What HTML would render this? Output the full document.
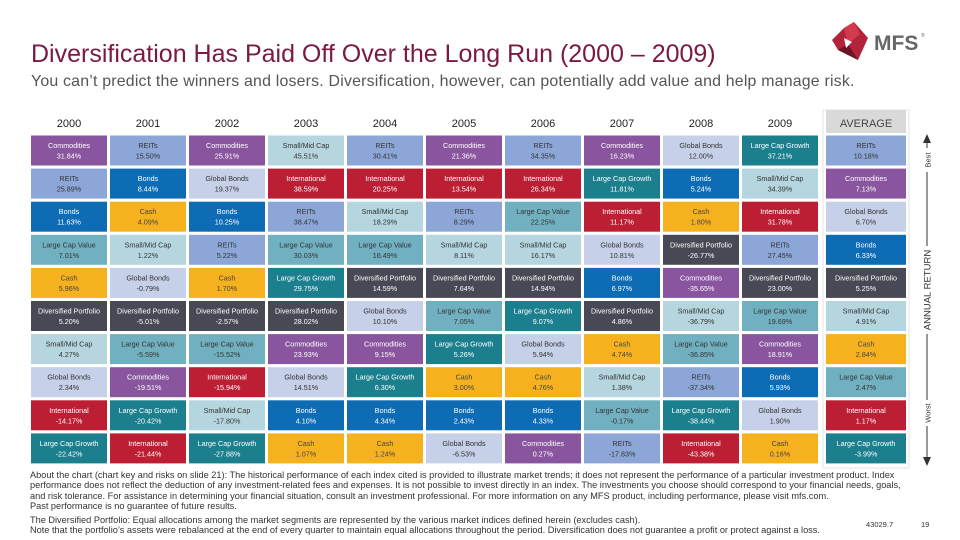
<!DOCTYPE html>
<html><head><meta charset="utf-8"><style>
html,body{margin:0;padding:0;background:#fff}
body{width:960px;height:540px;overflow:hidden;position:relative;font-family:"Liberation Sans",sans-serif}
.title{position:absolute;left:31px;top:40px;font-size:25px;color:#7a1a42;white-space:nowrap}
.sub{position:absolute;left:31px;top:73px;font-size:15.9px;color:#555;white-space:nowrap;letter-spacing:0.2px}
.foot{position:absolute;left:30px;font-size:9.2px;color:#333;white-space:nowrap;line-height:10.3px}
</style></head><body>
<div class="title">Diversification Has Paid Off Over the Long Run (2000 – 2009)</div>
<div class="sub">You can’t predict the winners and losers. Diversification, however, can potentially add value and help manage risk.</div>
<svg style="position:absolute;left:830px;top:20px" width="110" height="42">
<polygon points="14,8 24,2 38,18 28,40 8,30 2,20" fill="#b3243b"/>
<polygon points="14,8 24,2 30,14 18,24" fill="#d23a4e"/>
<polygon points="18,24 28,40 8,30" fill="#6e1428"/>
<polygon points="14,18 22,22 16,28" fill="#fff"/>
<text x="44" y="30" font-size="21" font-weight="bold" fill="#666" font-family="Liberation Sans, sans-serif">MFS</text>
<text x="91" y="17" font-size="5" fill="#666">®</text>
</svg>
<svg id="chart" style="position:absolute;left:0;top:0" width="960" height="470"></svg>
<div class="foot" style="top:470px">About the chart (chart key and risks on slide 21): The historical performance of each index cited is provided to illustrate market trends; it does not represent the performance of a particular investment product. Index<br>performance does not reflect the deduction of any investment-related fees and expenses. It is not possible to invest directly in an index. The investments you choose should correspond to your financial needs, goals,<br>and risk tolerance. For assistance in determining your financial situation, consult an investment professional. For more information on any MFS product, including performance, please visit mfs.com.<br>Past performance is no guarantee of future results.</div>
<div class="foot" style="top:515px">The Diversified Portfolio: Equal allocations among the market segments are represented by the various market indices defined herein (excludes cash).<br>Note that the portfolio’s assets were rebalanced at the end of every quarter to maintain equal allocations throughout the period. Diversification does not guarantee a profit or protect against a loss.</div>
<div class="foot" style="top:520px;left:866px;font-size:7.5px">43029.7</div>
<div class="foot" style="top:520px;left:921px;font-size:7.5px">19</div>
<script>
const columnLabels = ["2000","2001","2002","2003","2004","2005","2006","2007","2008","2009","AVERAGE"];
const assetNames = ["Commodities","REITs","Bonds","Large Cap Value","Cash","Diversified Portfolio","Small/Mid Cap","Global Bonds","International","Large Cap Growth"];
const assetColors = ["#8a559f","#8ba6d7","#0e6cb5","#70b0c1","#f6b11e","#474a54","#b5d6df","#c6d0e9","#bc1e33","#1b7f8e"];
const assetText = ["#fff","#333","#fff","#333","#444","#fff","#333","#333","#fff","#fff"];
// per column ranking (index into assetNames), best to worst
const rank2000 = [0,1,2,3,4,5,6,7,8,9];
const ret2000 = [31.84,25.89,11.63,7.01,5.96,5.20,4.27,2.34,-14.17,-22.42];
const rank2001 = [1,2,4,6,7,5,3,0,9,8];
const ret2001 = [15.50,8.44,4.09,1.22,-0.79,-5.01,-5.59,-19.51,-20.42,-21.44];
const rank2002 = [0,7,2,1,4,5,3,8,6,9];
const ret2002 = [25.91,19.37,10.25,5.22,1.70,-2.57,-15.52,-15.94,-17.80,-27.88];
const rank2003 = [6,8,1,3,9,5,0,7,2,4];
const ret2003 = [45.51,38.59,38.47,30.03,29.75,28.02,23.93,14.51,4.10,1.07];
const rank2004 = [1,8,6,3,5,7,0,9,2,4];
const ret2004 = [30.41,20.25,18.29,16.49,14.59,10.10,9.15,6.30,4.34,1.24];
const rank2005 = [0,8,1,6,5,3,9,4,2,7];
const ret2005 = [21.36,13.54,8.29,8.11,7.64,7.05,5.26,3.00,2.43,-6.53];
const rank2006 = [1,8,3,6,5,9,7,4,2,0];
const ret2006 = [34.35,26.34,22.25,16.17,14.94,9.07,5.94,4.76,4.33,0.27];
const rank2007 = [0,9,8,7,2,5,4,6,3,1];
const ret2007 = [16.23,11.81,11.17,10.81,6.97,4.86,4.74,1.38,-0.17,-17.83];
const rank2008 = [7,2,4,5,0,6,3,1,9,8];
const ret2008 = [12.00,5.24,1.80,-26.77,-35.65,-36.79,-36.85,-37.34,-38.44,-43.38];
const rank2009 = [9,6,8,1,5,3,0,2,7,4];
const ret2009 = [37.21,34.39,31.78,27.45,23.00,19.69,18.91,5.93,1.90,0.16];
const rankAvg = [1,0,7,2,5,6,4,3,8,9];
const retAvg = [10.18,7.13,6.70,6.33,5.25,4.91,2.84,2.47,1.17,-3.99];

const ranks = [rank2000,rank2001,rank2002,rank2003,rank2004,rank2005,rank2006,rank2007,rank2008,rank2009,rankAvg];
const rets = [ret2000,ret2001,ret2002,ret2003,ret2004,ret2005,ret2006,ret2007,ret2008,ret2009,retAvg];

const NS = "http://www.w3.org/2000/svg";
const svg = document.getElementById("chart");
function colX(i){ return i < 10 ? 31 + i*79 : 826; }
function colW(i){ return i < 10 ? 76 : 80; }
function rowY(r){ return 135.5 + r*33.1; }
function mk(tag, attrs){ const e = document.createElementNS(NS, tag); for (const k in attrs) e.setAttribute(k, attrs[k]); return e; }

const avgBg = mk("rect",{x:823,y:110,width:86,height:358,fill:"#fff",stroke:"#ddd","stroke-width":0.8});


svg.appendChild(avgBg);
const avgHead = mk("rect",{x:826,y:110,width:80,height:23,fill:"#d9d9d9"});


svg.appendChild(avgHead);

columnLabels.forEach((lab, i) => {
  const t = mk("text",{x:colX(i)+colW(i)/2, y:127, "text-anchor":"middle", "font-size":11, fill: i<10 ? "#222" : "#444", "font-family":"Liberation Sans, sans-serif"});
  t.textContent = lab;
  
  
  svg.appendChild(t);
  ranks[i].forEach((a, r) => {
    const g = mk("g",{});
    
    
    const rc = mk("rect",{x:colX(i), y:rowY(r), width:colW(i), height:30, fill:assetColors[a]});
    g.appendChild(rc);
    const cx = colX(i)+colW(i)/2;
    const t1 = mk("text",{x:cx, y:rowY(r)+12.5, "text-anchor":"middle", "font-size":7.2, fill:assetText[a]});
    t1.textContent = assetNames[a];
    const t2 = mk("text",{x:cx, y:rowY(r)+23, "text-anchor":"middle", "font-size":7.2, fill:assetText[a]});
    t2.textContent = rets[i][r].toFixed(2) + "%";
    g.appendChild(t1); g.appendChild(t2);
    svg.appendChild(g);
  });
});

const ax = mk("g",{});


ax.appendChild(mk("line",{x1:927,y1:140,x2:927,y2:460,stroke:"#333","stroke-width":1}));
ax.appendChild(mk("polygon",{points:"923,143 931,143 927,134",fill:"#333"}));
ax.appendChild(mk("polygon",{points:"923,457 931,457 927,466",fill:"#333"}));
[["Best",160,24,7.5],["ANNUAL RETURN",290,88,9.5],["Worst",413,26,7.5]].forEach(([s,y,w,fs]) => {
  ax.appendChild(mk("rect",{x:919,y:y-w/2,width:16,height:w,fill:"#fff"}));
  const t = mk("text",{x:930.5,y:y,"text-anchor":"middle","font-size":fs,fill:"#333",transform:`rotate(-90 930.5 ${y})`});
  t.textContent = s;
  ax.appendChild(t);
});
svg.appendChild(ax);
</script>
</body></html>
